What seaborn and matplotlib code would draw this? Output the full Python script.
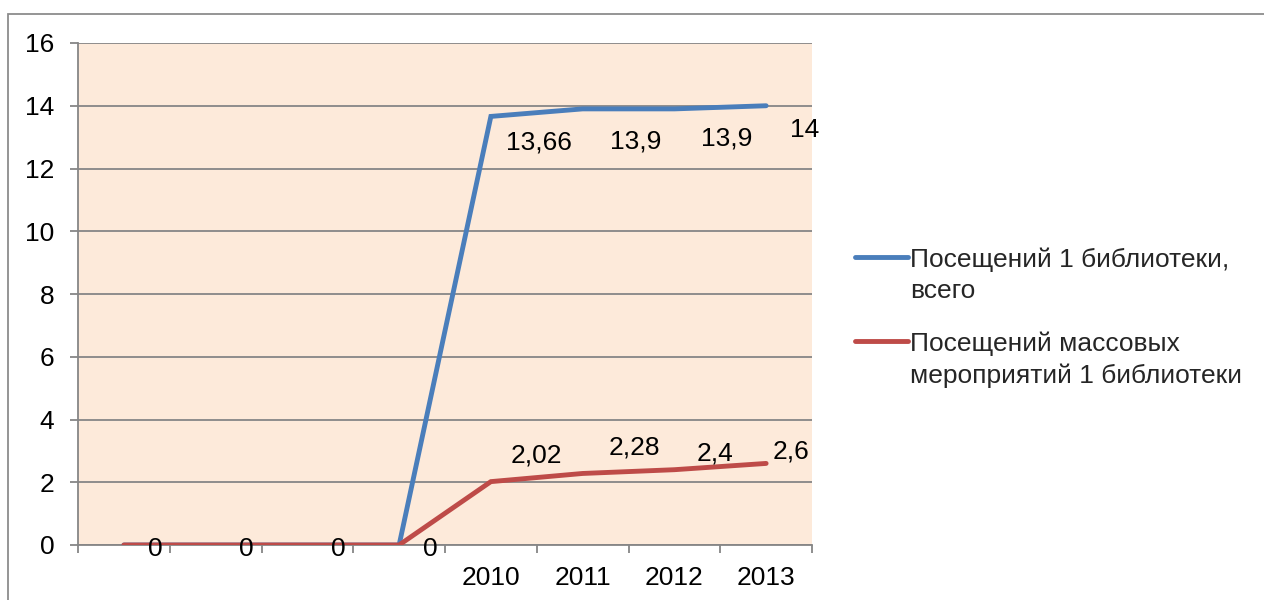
import matplotlib
matplotlib.use("Agg")
import matplotlib.pyplot as plt
import seaborn as sns
import pandas as pd
import numpy as np
from matplotlib.patches import Rectangle
from matplotlib.lines import Line2D

# ---------------- data ----------------
categories = ["", "", "", "", "2010", "2011", "2012", "2013"]
visits_total = [0, 0, 0, 0, 13.66, 13.9, 13.9, 14]
visits_events = [0, 0, 0, 0, 2.02, 2.28, 2.4, 2.6]
series_names = ["Посещений 1 библиотеки,\nвсего",
                "Посещений массовых\nмероприятий 1 библиотеки"]
y_ticks = [0, 2, 4, 6, 8, 10, 12, 14, 16]

# ---------------- style ----------------
BLUE = "#4A7EBB"
RED = "#BE4B48"
GRID = "#868686"
BG = "#FDEADA"
FS = 19
FS_PX = FS * 100 / 72

sns.set_theme(style="white")
plt.rcParams['font.family'] = ['Liberation Sans', 'DejaVu Sans']

W, H = 1264, 600
fig = plt.figure(figsize=(W / 100, H / 100), dpi=100)
fig.patch.set_facecolor("white")
ax = fig.add_axes([78 / W, 1 - 545 / H, (812 - 78) / W, (545 - 43) / H])
ax.set_facecolor(BG)

pos = np.arange(len(categories))
df = pd.DataFrame({
    "pos": np.concatenate([pos, pos]),
    "value": visits_total + visits_events,
    "series": [series_names[0]] * len(pos) + [series_names[1]] * len(pos),
})
sns.lineplot(data=df, x="pos", y="value", hue="series", hue_order=series_names,
             palette=[BLUE, RED], linewidth=3.5, ax=ax, legend=False, sort=False)
for ln in ax.lines:
    ln.set_solid_capstyle("round")
    ln.set_solid_joinstyle("miter")
    ln.set_zorder(3)

# axes
ax.set_xlim(-0.5, len(categories) - 0.5)
ax.set_ylim(0, 16)
ax.set_yticks(y_ticks)
ax.set_yticklabels([str(t) for t in y_ticks])
ax.set_xticks(pos)
ax.set_xticklabels(categories)
ax.set_xticks(np.arange(len(categories) + 1) - 0.5, minor=True)
ax.set_xlabel("")
ax.set_ylabel("")
ax.yaxis.grid(True, color=GRID, lw=1.3, zorder=1)
ax.xaxis.grid(False)
ax.set_axisbelow(True)
for s in ["top", "right"]:
    ax.spines[s].set_visible(False)
for s in ["left", "bottom"]:
    ax.spines[s].set_color(GRID)
    ax.spines[s].set_linewidth(1.3)
ax.tick_params(axis="y", which="major", direction="out", length=6, width=1.3,
               color=GRID, labelsize=FS, labelcolor="black", pad=11, left=True)
ax.tick_params(axis="x", which="major", length=0, labelsize=FS,
               labelcolor="black", pad=15)
ax.tick_params(axis="x", which="minor", direction="out", length=6, width=1.3,
               color=GRID, bottom=True)


def fmt(v):
    return f"{v:g}".replace(".", ",")


# data labels (offsets in pixels)
red_offsets = [(31, -2), (31, -2), (31, -2), (31, -2),
               (45, 29), (52, 28), (41, 19), (25, 14)]
blue_offsets = [None, None, None, None,
                (48, -24), (53, -30), (52, -27), (38, -22)]
for vals, offs in [(visits_events, red_offsets), (visits_total, blue_offsets)]:
    for i, (v, o) in enumerate(zip(vals, offs)):
        if o is None:
            continue
        ax.annotate(fmt(v), xy=(pos[i], v), xytext=o, textcoords="offset pixels",
                    ha="center", va="center_baseline", fontsize=FS,
                    color="black", annotation_clip=False, zorder=5)

# legend
handles = [Line2D([0], [0], color=c, lw=3.5, solid_capstyle="round")
           for c in (BLUE, RED)]
leg = fig.legend(handles, series_names, loc="upper left",
                 bbox_to_anchor=(855 / W, 1 - 229 / H), bbox_transform=fig.transFigure,
                 frameon=False, fontsize=FS, handlelength=53 / FS_PX,
                 handletextpad=0.08, labelspacing=1.09, borderpad=0,
                 borderaxespad=0)
for t in leg.get_texts():
    t.set_linespacing(1.36)

# align the first text line of each entry with its legend line
fig.canvas.draw()
renderer = fig.canvas.get_renderer()
for t, h in zip(leg.get_texts(), leg.legend_handles):
    hb = h.get_window_extent(renderer)
    hy = 0.5 * (hb.y0 + hb.y1)
    tb = t.get_window_extent(renderer)
    cap_center = tb.y1 - 0.40 * FS_PX
    x0, y0 = t.get_position()
    t.set_y(y0 + (hy - 1 - cap_center))

# outer chart frame (only top and left edges visible)
fig.add_artist(Rectangle((8 / W, -0.5), 2.0, (1 - 14 / H) + 0.5,
                         transform=fig.transFigure, fill=False,
                         ec="#8c8c8c", lw=1.3, clip_on=False))

fig.savefig("out.png", dpi=100, facecolor="white")
